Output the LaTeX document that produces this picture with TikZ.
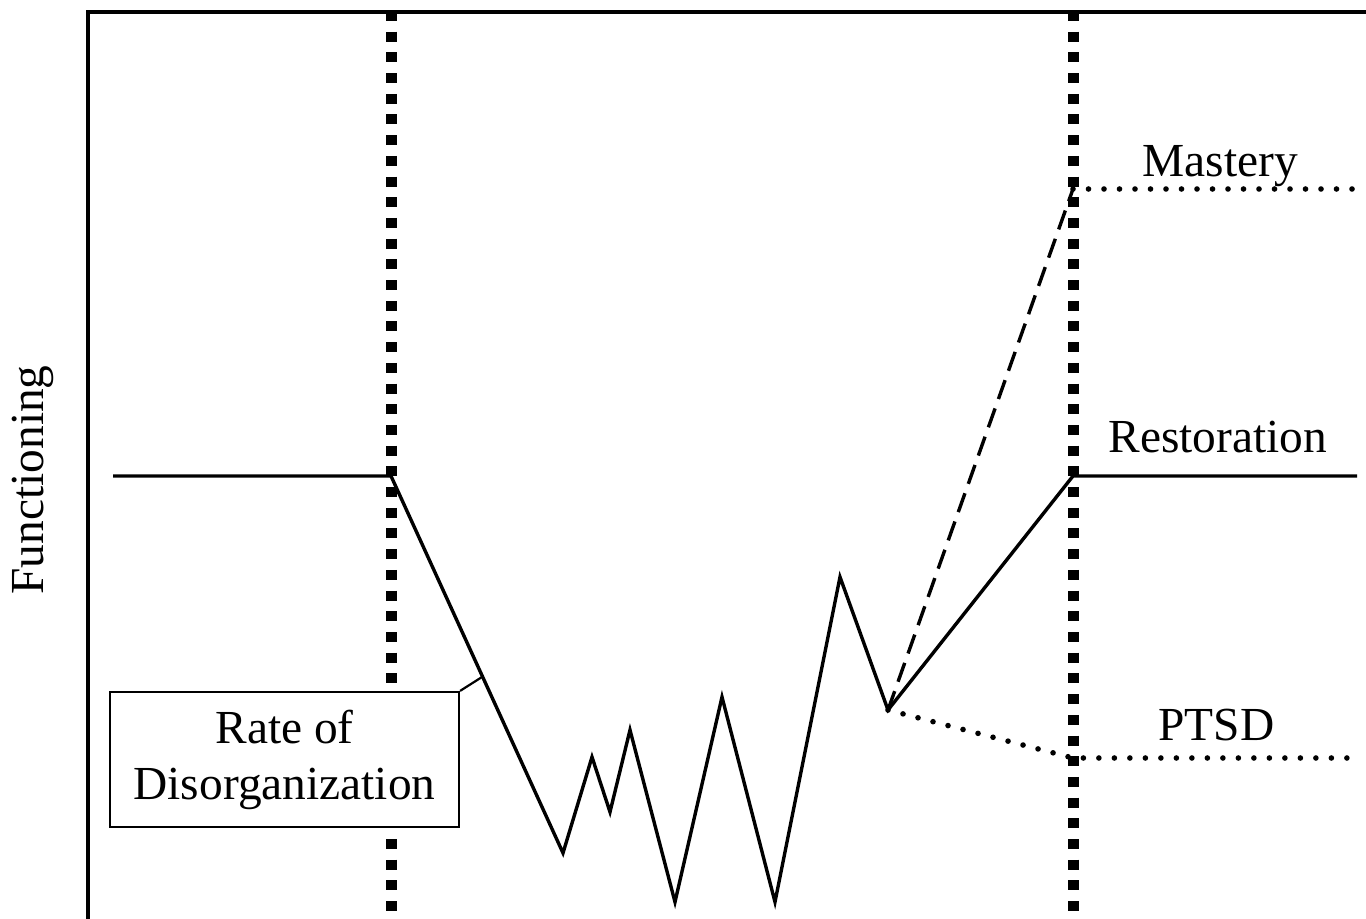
\documentclass[tikz,border=0pt]{standalone}
\usepackage{fontspec}
\setmainfont{Liberation Serif}
\begin{document}
\begin{tikzpicture}[x=0.5pt,y=-0.5pt,
  frame/.style={line width=1.75pt},
  phase/.style={line width=5.5pt,dash pattern=on 5pt off 5.35pt},
  curve/.style={line width=1.7pt,line join=miter},
  dotline/.style={line width=2.8pt,line cap=round,dash pattern=on 0pt off 7.75pt},
  dashline/.style={line width=1.7pt,dash pattern=on 10pt off 5pt},
  lbl/.style={font=\fontsize{23.7}{28}\selectfont,inner sep=0pt},
  boxstyle/.style={draw,line width=1.1pt,minimum width=174.5pt,minimum height=67.5pt,inner sep=0pt,align=center,font=\fontsize{23.7}{28}\selectfont}]
\useasboundingbox (0,0) rectangle (1366,919);
% frame
\coordinate (tl) at (88,12);
\coordinate (tr) at (1366,12);
\coordinate (bl) at (88,919);
\draw[frame] (bl) -- (tl) -- (tr);
% phase boundaries
\coordinate (p1t) at (391,11);
\coordinate (p1b) at (391,919);
\coordinate (p2t) at (1073,11);
\coordinate (p2b) at (1073,919);
\draw[phase] (p1t) -- (p1b);
\draw[phase] (p2t) -- (p2b);
% curve points
\coordinate (s) at (113,476);
\coordinate (a) at (391,476);
\coordinate (b) at (563,853);
\coordinate (c) at (592,757);
\coordinate (d) at (610,812);
\coordinate (e) at (630,730);
\coordinate (f) at (675,902);
\coordinate (g) at (722,697);
\coordinate (h) at (775,902);
\coordinate (i) at (840,577);
\coordinate (j) at (888,710);
\coordinate (r1) at (1073,476);
\coordinate (r2) at (1357,476);
\coordinate (m1) at (1073,189);
\coordinate (m2) at (1357,189);
\coordinate (t1) at (1073,758);
\coordinate (t2) at (1357,758);
\coordinate (hook) at (482,677);
\draw[curve] (s) -- (a) -- (b) -- (c) -- (d) -- (e) -- (f) -- (g) -- (h) -- (i) -- (j) -- (r1) -- (r2);
\draw[dashline] (j) -- (m1);
\draw[dotline] (m1) -- (m2);
\draw[dotline] (j) -- (t1) -- (t2);
% labels
\node[lbl,anchor=base west] (mastery) at (1142,177) {Mastery};
\node[lbl,anchor=base west] (restoration) at (1108,453) {Restoration};
\node[lbl,anchor=base west] (ptsd) at (1158,740) {PTSD};
\node[lbl,rotate=90,anchor=base] (func) at (43,480) {Functioning};
% callout box
\node[boxstyle,fill=white] (rate) at (284.5,759.5) {Rate of\\Disorganization};
\draw[line width=1.1pt] (rate.north east) -- (hook);
\end{tikzpicture}
\end{document}
